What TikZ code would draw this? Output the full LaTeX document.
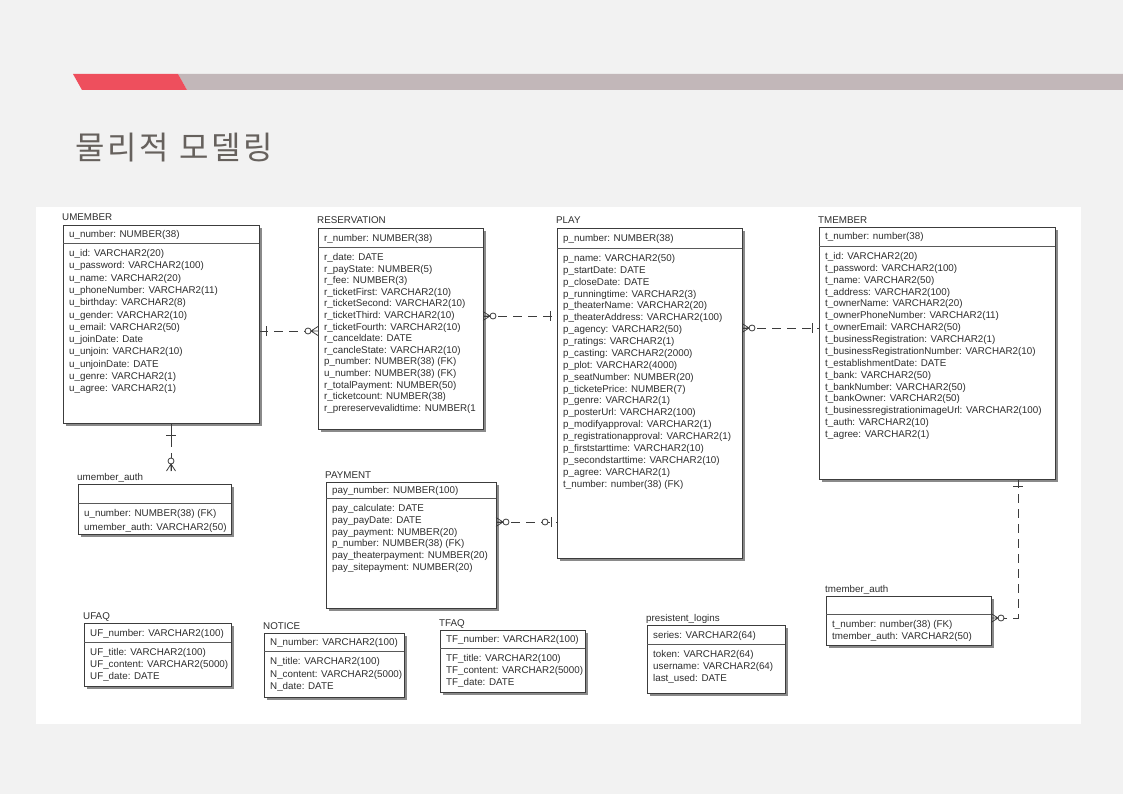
\documentclass[tikz,border=0pt]{standalone}
\usepackage{fontspec}
\setmainfont{Liberation Sans}
\newfontfamily\krfont[LetterSpace=9]{Noto Sans CJK KR}
\definecolor{bgc}{HTML}{F2F2F2}
\definecolor{redc}{HTML}{EE4F5D}
\definecolor{barg}{HTML}{C2B7B9}
\definecolor{titlec}{HTML}{66615D}
\definecolor{txtc}{HTML}{2E2E2E}
\definecolor{linec}{HTML}{3C3C3C}
\definecolor{shadc}{HTML}{8A8A8A}
\def\rs{11.9}
% #1 name, #2 label, #3 x1, #4 y1, #5 x2, #6 y2, #7 separator y, #8 key, #9 attributes
\newcommand\erent[9]{%
  \fill[shadc] ({#3+3},{#4+3}) rectangle ({#5+3},{#6+3});
  \node[ebox, minimum width={#5pt-#3pt}, minimum height={#6pt-#4pt}, anchor=north west] (#1) at (#3,#4) {};
  \node[etext, anchor=base west] (#1-label) at ({#3-1},{#4-4}) {#2};
  \draw[sepline] (#3,#7) -- (#5,#7);
  \node[etext, anchor=base west] (#1-pk) at ({#3+6},{(#4+#7)/2+3.5}) {#8};
  \foreach \myattr [count=\i] in {#9} {\node[etext, anchor=base west] (#1-a\i) at ({#3+6},{#7+10+(\i-1)*\rs+3.5}) {\myattr};}
}
\begin{document}
\begin{tikzpicture}[x=1pt,y=-1pt,
  ebox/.style={draw=linec, line width=0.8pt, fill=white, inner sep=0pt, outer sep=0pt},
  etext/.style={font=\fontsize{9.8}{11}\selectfont, text=txtc, inner sep=0pt},
  sepline/.style={draw=linec!85, line width=0.9pt},
  rel/.style={draw=linec, line width=0.8pt, dash pattern=on 9pt off 6pt},
  relmark/.style={draw=linec, line width=0.8pt, solid},
  crowopt/.pic={\draw[relmark] (0,-4.5) -- (-7,0) -- (0,4.5) (0,0) -- (-7,0); \draw[relmark, fill=white] (-10,0) circle[radius=3pt];},
  onebar/.pic={\draw[relmark] (-7,-5) -- (-7,5);},
  oneopt/.pic={\draw[relmark] (-6,-5) -- (-6,5); \draw[relmark, fill=white] (-12,0) circle[radius=3pt];}
]
\useasboundingbox (0,0) rectangle (1123,794);
\fill[bgc] (0,0) rectangle (1123,794);
% header bar
\fill[barg] (178,74) -- (1123,74) -- (1123,90) -- (187,90) -- cycle;
\fill[redc] (73,74) -- (178,74) -- (187,90) -- (82,90) -- cycle;
\node[anchor=base west, inner sep=0pt, font=\krfont\fontsize{32}{38}\selectfont, text=titlec] (title) at (75,160) {물리적 모델링};
% white panel
\fill[white] (36,207) rectangle (1081,724);

\def\rs{12.3}
\erent{umember}{UMEMBER}{63}{225}{259}{423}{243}{u\_number: NUMBER(38)}{u\_id: VARCHAR2(20), u\_password: VARCHAR2(100), u\_name: VARCHAR2(20), u\_phoneNumber: VARCHAR2(11), u\_birthday: VARCHAR2(8), u\_gender: VARCHAR2(10), u\_email: VARCHAR2(50), u\_joinDate: Date, u\_unjoin: VARCHAR2(10), u\_unjoinDate: DATE, u\_genre: VARCHAR2(1), u\_agree: VARCHAR2(1)}

\def\rs{11.6}
\erent{reservation}{RESERVATION}{318}{228}{483}{429}{247}{r\_number: NUMBER(38)}{r\_date: DATE, r\_payState: NUMBER(5), r\_fee: NUMBER(3), r\_ticketFirst: VARCHAR2(10), r\_ticketSecond: VARCHAR2(10), r\_ticketThird: VARCHAR2(10), r\_ticketFourth: VARCHAR2(10), r\_canceldate: DATE, r\_cancleState: VARCHAR2(10), p\_number: NUMBER(38) (FK), u\_number: NUMBER(38) (FK), r\_totalPayment: NUMBER(50), r\_ticketcount: NUMBER(38), r\_prereservevalidtime: NUMBER(1}

\def\rs{11.87}
\erent{play}{PLAY}{557}{228}{742}{558}{248}{p\_number: NUMBER(38)}{p\_name: VARCHAR2(50), p\_startDate: DATE, p\_closeDate: DATE, p\_runningtime: VARCHAR2(3), p\_theaterName: VARCHAR2(20), p\_theaterAddress: VARCHAR2(100), p\_agency: VARCHAR2(50), p\_ratings: VARCHAR2(1), p\_casting: VARCHAR2(2000), p\_plot: VARCHAR2(4000), p\_seatNumber: NUMBER(20), p\_ticketePrice: NUMBER(7), p\_genre: VARCHAR2(1), p\_posterUrl: VARCHAR2(100), p\_modifyapproval: VARCHAR2(1), p\_registrationapproval: VARCHAR2(1), p\_firststarttime: VARCHAR2(10), p\_secondstarttime: VARCHAR2(10), p\_agree: VARCHAR2(1), t\_number: number(38) (FK)}

\erent{tmember}{TMEMBER}{819}{227}{1055}{479}{246}{t\_number: number(38)}{t\_id: VARCHAR2(20), t\_password: VARCHAR2(100), t\_name: VARCHAR2(50), t\_address: VARCHAR2(100), t\_ownerName: VARCHAR2(20), t\_ownerPhoneNumber: VARCHAR2(11), t\_ownerEmail: VARCHAR2(50), t\_businessRegistration: VARCHAR2(1), t\_businessRegistrationNumber: VARCHAR2(10), t\_establishmentDate: DATE, t\_bank: VARCHAR2(50), t\_bankNumber: VARCHAR2(50), t\_bankOwner: VARCHAR2(50), t\_businessregistrationimageUrl: VARCHAR2(100), t\_auth: VARCHAR2(10), t\_agree: VARCHAR2(1)}

\def\rs{13.5}
\erent{uauth}{umember\_auth}{78}{484}{231}{534}{503}{}{u\_number: NUMBER(38) (FK), umember\_auth: VARCHAR2(50)}

\def\rs{11.8}
\erent{payment}{PAYMENT}{326}{482}{496}{608}{498}{pay\_number: NUMBER(100)}{pay\_calculate: DATE, pay\_payDate: DATE, pay\_payment: NUMBER(20), p\_number: NUMBER(38) (FK), pay\_theaterpayment: NUMBER(20), pay\_sitepayment: NUMBER(20)}

\def\rs{12}
\erent{ufaq}{UFAQ}{84}{623}{231}{686}{642}{UF\_number: VARCHAR2(100)}{UF\_title: VARCHAR2(100), UF\_content: VARCHAR2(5000), UF\_date: DATE}

\def\rs{12.5}
\erent{notice}{NOTICE}{264}{633}{404}{697}{651}{N\_number: VARCHAR2(100)}{N\_title: VARCHAR2(100), N\_content: VARCHAR2(5000), N\_date: DATE}

\def\rs{12}
\erent{tfaq}{TFAQ}{440}{630}{585}{692}{648}{TF\_number: VARCHAR2(100)}{TF\_title: VARCHAR2(100), TF\_content: VARCHAR2(5000), TF\_date: DATE}

\erent{plogins}{presistent\_logins}{647}{625}{785}{693}{644}{series: VARCHAR2(64)}{token: VARCHAR2(64), username: VARCHAR2(64), last\_used: DATE}

\erent{tauth}{tmember\_auth}{826}{596}{991}{645}{614}{}{t\_number: number(38) (FK), tmember\_auth: VARCHAR2(50)}

% relationships
\draw[rel] (umember.east |- 0,331) -- (reservation.west |- 0,331);
\pic[rotate=180] at (umember.east |- 0,331) {onebar};
\pic at (reservation.west |- 0,331) {crowopt};

\draw[rel] (reservation.east |- 0,316) -- (play.west |- 0,316);
\pic[rotate=180] at (reservation.east |- 0,316) {crowopt};
\pic at (play.west |- 0,316) {onebar};

\draw[rel] (play.east |- 0,328) -- (tmember.west |- 0,328);
\pic[rotate=180] at (play.east |- 0,328) {crowopt};
\pic at (tmember.west |- 0,328) {onebar};

\draw[rel] (payment.east |- 0,522) -- (play.west |- 0,522);
\pic[rotate=180] at (payment.east |- 0,522) {crowopt};
\pic at (play.west |- 0,522) {oneopt};

\coordinate (uauthend) at (171,471);
\draw[rel, dash pattern=on 24pt off 6pt] (umember.south -| 171,0) -- (uauthend);
\pic[rotate=90] at ([yshift=-5pt]umember.south -| 171,0) {onebar};
\pic[rotate=-90] at (uauthend) {crowopt};

\draw[rel] (tmember.south -| 1018,0) |- (tauth.east |- 0,618);
\pic[rotate=90] at (tmember.south -| 1018,0) {onebar};
\pic[rotate=180] at (tauth.east |- 0,618) {crowopt};
\end{tikzpicture}
\end{document}
